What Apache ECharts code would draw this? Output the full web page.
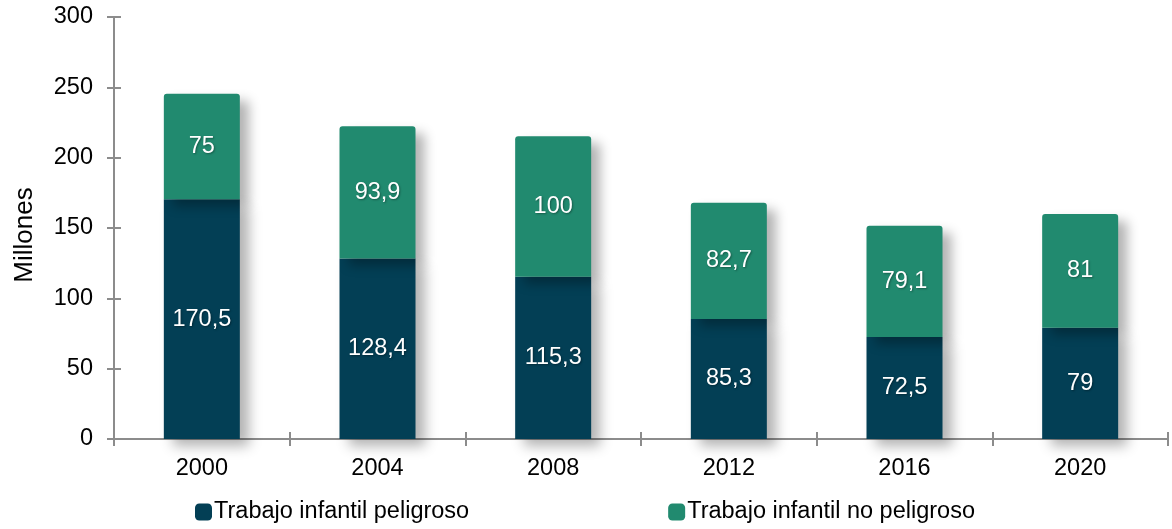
<!DOCTYPE html>
<html>
<head>
<meta charset="utf-8">
<script src="https://cdn.jsdelivr.net/npm/echarts@6/dist/echarts.min.js"></script>
<style>
  html, body { margin: 0; padding: 0; background: #fff; }
  #chart { width: 1172px; height: 529px; }
</style>
</head>
<body>
<div id="chart"></div>
<script>
// datos
var years = ['2000', '2004', '2008', '2012', '2016', '2020'];
var peligroso = [170.5, 128.4, 115.3, 85.3, 72.5, 79];
var noPeligroso = [75, 93.9, 100, 82.7, 79.1, 81];
var yTicks = [0, 50, 100, 150, 200, 250, 300];

var myChart = echarts.init(document.getElementById('chart'));

function fmt(p) {
  return String(p.value).replace('.', ',');
}

var labelStyle = {
  show: true,
  position: 'inside',
  color: '#fff',
  fontSize: 23.5,
  fontFamily: 'Liberation Sans, Arial',
  textShadowColor: 'rgba(0,0,0,0.35)',
  textShadowBlur: 2,
  textShadowOffsetX: 1,
  textShadowOffsetY: 1,
  formatter: fmt
};

var shadow = {
  shadowColor: 'rgba(0,0,0,0.3)',
  shadowBlur: 12,
  shadowOffsetX: 9,
  shadowOffsetY: 7
};

var axisGray = '#8c8c8c';

var option = {
  animation: false,
  textStyle: { fontFamily: 'Liberation Sans, Arial' },
  grid: { left: 114, right: 4, top: 17, bottom: 90 },
  legend: {
    bottom: 0,
    left: 190,
    itemWidth: 17,
    itemHeight: 17,
    itemGap: 199,
    icon: 'roundRect',
    textStyle: { fontSize: 23.5, color: '#000', padding: [0, 0, 0, -3] },
    data: ['Trabajo infantil peligroso', 'Trabajo infantil no peligroso']
  },
  xAxis: [
    {
      type: 'category',
      data: years,
      axisLine: { lineStyle: { color: axisGray, width: 2 } },
      axisTick: { show: true, length: 7, lineStyle: { color: axisGray, width: 2 } },
      axisLabel: { color: '#000', fontSize: 23.5, margin: 18 }
    },
    {
      type: 'category',
      data: years,
      position: 'bottom',
      axisLine: { show: false },
      axisTick: { show: true, inside: true, length: 7, lineStyle: { color: axisGray, width: 2 } },
      axisLabel: { show: false }
    }
  ],
  yAxis: [
    {
      type: 'value',
      min: yTicks[0],
      max: yTicks[yTicks.length - 1],
      interval: 50,
      name: 'Millones',
      nameLocation: 'middle',
      nameGap: 76,
      nameTextStyle: { fontSize: 26, color: '#000', padding: [0, 14, 0, 0] },
      splitLine: { show: false },
      axisLine: { show: true, lineStyle: { color: axisGray, width: 2 } },
      axisTick: { show: true, length: 7, lineStyle: { color: axisGray, width: 2 } },
      axisLabel: { color: '#000', fontSize: 23.5, margin: 21 }
    },
    {
      type: 'value',
      min: yTicks[0],
      max: yTicks[yTicks.length - 1],
      interval: 50,
      position: 'left',
      splitLine: { show: false },
      axisLine: { show: false },
      axisTick: { show: true, inside: true, length: 7, lineStyle: { color: axisGray, width: 2 } },
      axisLabel: { show: false }
    }
  ],
  series: [
    {
      name: 'Trabajo infantil peligroso',
      type: 'bar',
      stack: 'total',
      barWidth: 76,
      data: peligroso,
      label: labelStyle,
      itemStyle: Object.assign({ color: '#033f55' }, shadow),
      z: 3
    },
    {
      name: 'Trabajo infantil no peligroso',
      type: 'bar',
      stack: 'total',
      barWidth: 76,
      data: noPeligroso,
      label: labelStyle,
      itemStyle: Object.assign({ color: '#218a6f', borderRadius: [3, 3, 0, 0] }, shadow),
      z: 3
    }
  ]
};

myChart.setOption(option);
</script>
</body>
</html>
